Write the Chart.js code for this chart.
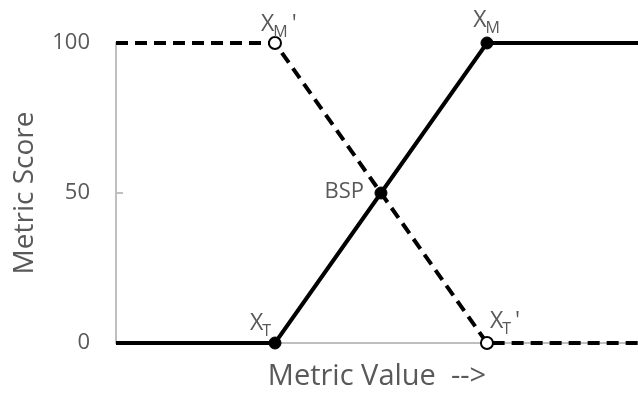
<!DOCTYPE html>
<html lang="en">
<head>
    <meta charset="utf-8">
    <title>Metric Score vs Metric Value</title>
    <script src="https://cdn.jsdelivr.net/npm/chart.js@4.4.1/dist/chart.umd.min.js"></script>
    <style>
        html, body { margin: 0; padding: 0; background: #fff; overflow: hidden; }
        #wrap { width: 638px; height: 394px; }
    </style>
</head>
<body>

<div id="wrap"><canvas id="chart"></canvas></div>

<script>
// solid curve (metric where higher value is better)
var solidValues = [0, 3, 5, 7, 10];
var solidScores = [0, 0, 50, 100, 100];
var solidMarkers = [0, 6, 6, 6, 0];

// dashed curve (metric where lower value is better)
var dashedValues = [0, 3, 7, 10];
var dashedScores = [100, 100, 0, 0];
var dashedMarkers = [0, 6, 6, 0];

var yTicks = [0, 50, 100];

// point labels: value, score, text, subscript, suffix, side
var labelValues = [3, 7, 3, 7, 5];
var labelScores = [0, 100, 100, 0, 50];
var labelTexts = ['X', 'X', 'X', 'X', 'BSP'];
var labelSubs = ['T', 'M', 'M', 'T', ''];
var labelSuffix = ['', '', "'", "'", ''];
var labelSides = ['left', 'above', 'aboveleft', 'right', 'left'];

var textColor = '#595959';
var fontFamily = "'Open Sans', 'Noto Sans', sans-serif";

function toPoints(xs, ys) {
    var pts = [];
    for (var i = 0; i < xs.length; i++) {
        pts.push({ x: xs[i], y: ys[i] });
    }
    return pts;
}

var pointLabels = {
    id: 'pointLabels',
    beforeDatasetsDraw: function(chart) {
        // inward tick marks on the y axis
        var ctx = chart.ctx;
        var xs = chart.scales.x, ys = chart.scales.y;
        ctx.save();
        ctx.strokeStyle = '#bfbfbf';
        ctx.lineWidth = 2;
        yTicks.forEach(function(t) {
            var py = ys.getPixelForValue(t);
            ctx.beginPath();
            ctx.moveTo(xs.left, py);
            ctx.lineTo(xs.left + 7, py);
            ctx.stroke();
        });
        ctx.restore();
    },
    afterDatasetsDraw: function(chart) {
        var ctx = chart.ctx;
        var xs = chart.scales.x, ys = chart.scales.y;
        ctx.save();
        ctx.fillStyle = textColor;
        ctx.textBaseline = 'alphabetic';

        for (var i = 0; i < labelTexts.length; i++) {
            var px = xs.getPixelForValue(labelValues[i]);
            var py = ys.getPixelForValue(labelScores[i]);
            var main = labelTexts[i], sub = labelSubs[i], suf = labelSuffix[i];
            var mainFont = (sub ? '23px ' : '22px ') + fontFamily;
            var subFont = '16px ' + fontFamily;
            ctx.font = mainFont;
            var wMain = ctx.measureText(main).width;
            ctx.font = subFont;
            var wSub = sub ? ctx.measureText(sub).width : 0;
            var total = wMain + wSub;

            var x0, base;
            if (labelSides[i] === 'above') {
                x0 = px - total / 2;
                base = py - 16;
            } else if (labelSides[i] === 'aboveleft') {
                x0 = px - 14;
                base = py - 12;
            } else if (labelSides[i] === 'left') {
                x0 = px - total - (sub ? 3 : 17);
                base = sub ? py - 13 : py + 5;
            } else {
                x0 = px + 3;
                base = py - 15;
            }
            ctx.textAlign = 'left';
            ctx.font = mainFont;
            ctx.fillText(main, x0, base);
            if (sub) {
                ctx.font = subFont;
                ctx.fillText(sub, x0 + wMain - 1, base + 6);
            }
            if (suf) {
                ctx.font = mainFont;
                ctx.fillText(suf, x0 + wMain + wSub + 3, base);
            }
        }
        ctx.restore();
    }
};

var ctx = document.getElementById('chart').getContext('2d');
var myChart = new Chart(ctx, {
    type: 'line',
    data: {
        datasets: [{
            label: 'Higher is better',
            data: toPoints(solidValues, solidScores),
            borderColor: '#000',
            borderWidth: 4,
            pointRadius: solidMarkers,
            pointBackgroundColor: '#000',
            pointBorderColor: '#000',
            pointBorderWidth: 1,
            fill: false,
            tension: 0,
            clip: false
        }, {
            label: 'Lower is better',
            data: toPoints(dashedValues, dashedScores),
            borderColor: '#000',
            borderWidth: 4,
            borderDash: [12, 7],
            pointRadius: dashedMarkers,
            pointBackgroundColor: '#fff',
            pointBorderColor: '#000',
            pointBorderWidth: 2,
            fill: false,
            tension: 0,
            clip: false
        }]
    },
    options: {
        responsive: true,
        maintainAspectRatio: false,
        animation: false,
        events: [],
        layout: { padding: { top: 43, right: 0, bottom: 0, left: 0 } },
        plugins: {
            legend: { display: false },
            tooltip: { enabled: false }
        },
        scales: {
            x: {
                type: 'linear',
                min: 0,
                max: 9.85,
                grid: { display: false, drawTicks: false },
                border: { color: '#bfbfbf', width: 2 },
                ticks: { display: false },
                title: {
                    display: true,
                    text: 'Metric Value  -->',
                    color: textColor,
                    font: { family: fontFamily, size: 29 },
                    padding: { top: 0, bottom: 0 }
                },
                afterFit: function(scale) { scale.height = 51; }
            },
            y: {
                min: 0,
                max: 100,
                afterBuildTicks: function(scale) {
                    scale.ticks = yTicks.map(function(v) { return { value: v }; });
                },
                grid: { display: false, drawTicks: false },
                border: { color: '#bfbfbf', width: 2 },
                ticks: {
                    color: textColor,
                    padding: 26,
                    font: { family: fontFamily, size: 22 }
                },
                title: {
                    display: true,
                    text: 'Metric Score',
                    color: textColor,
                    font: { family: fontFamily, size: 28 },
                    padding: { top: 8, bottom: 0 }
                },
                afterFit: function(scale) { scale.width = 116; }
            }
        }
    },
    plugins: [pointLabels]
});
</script>

</body>
</html>
